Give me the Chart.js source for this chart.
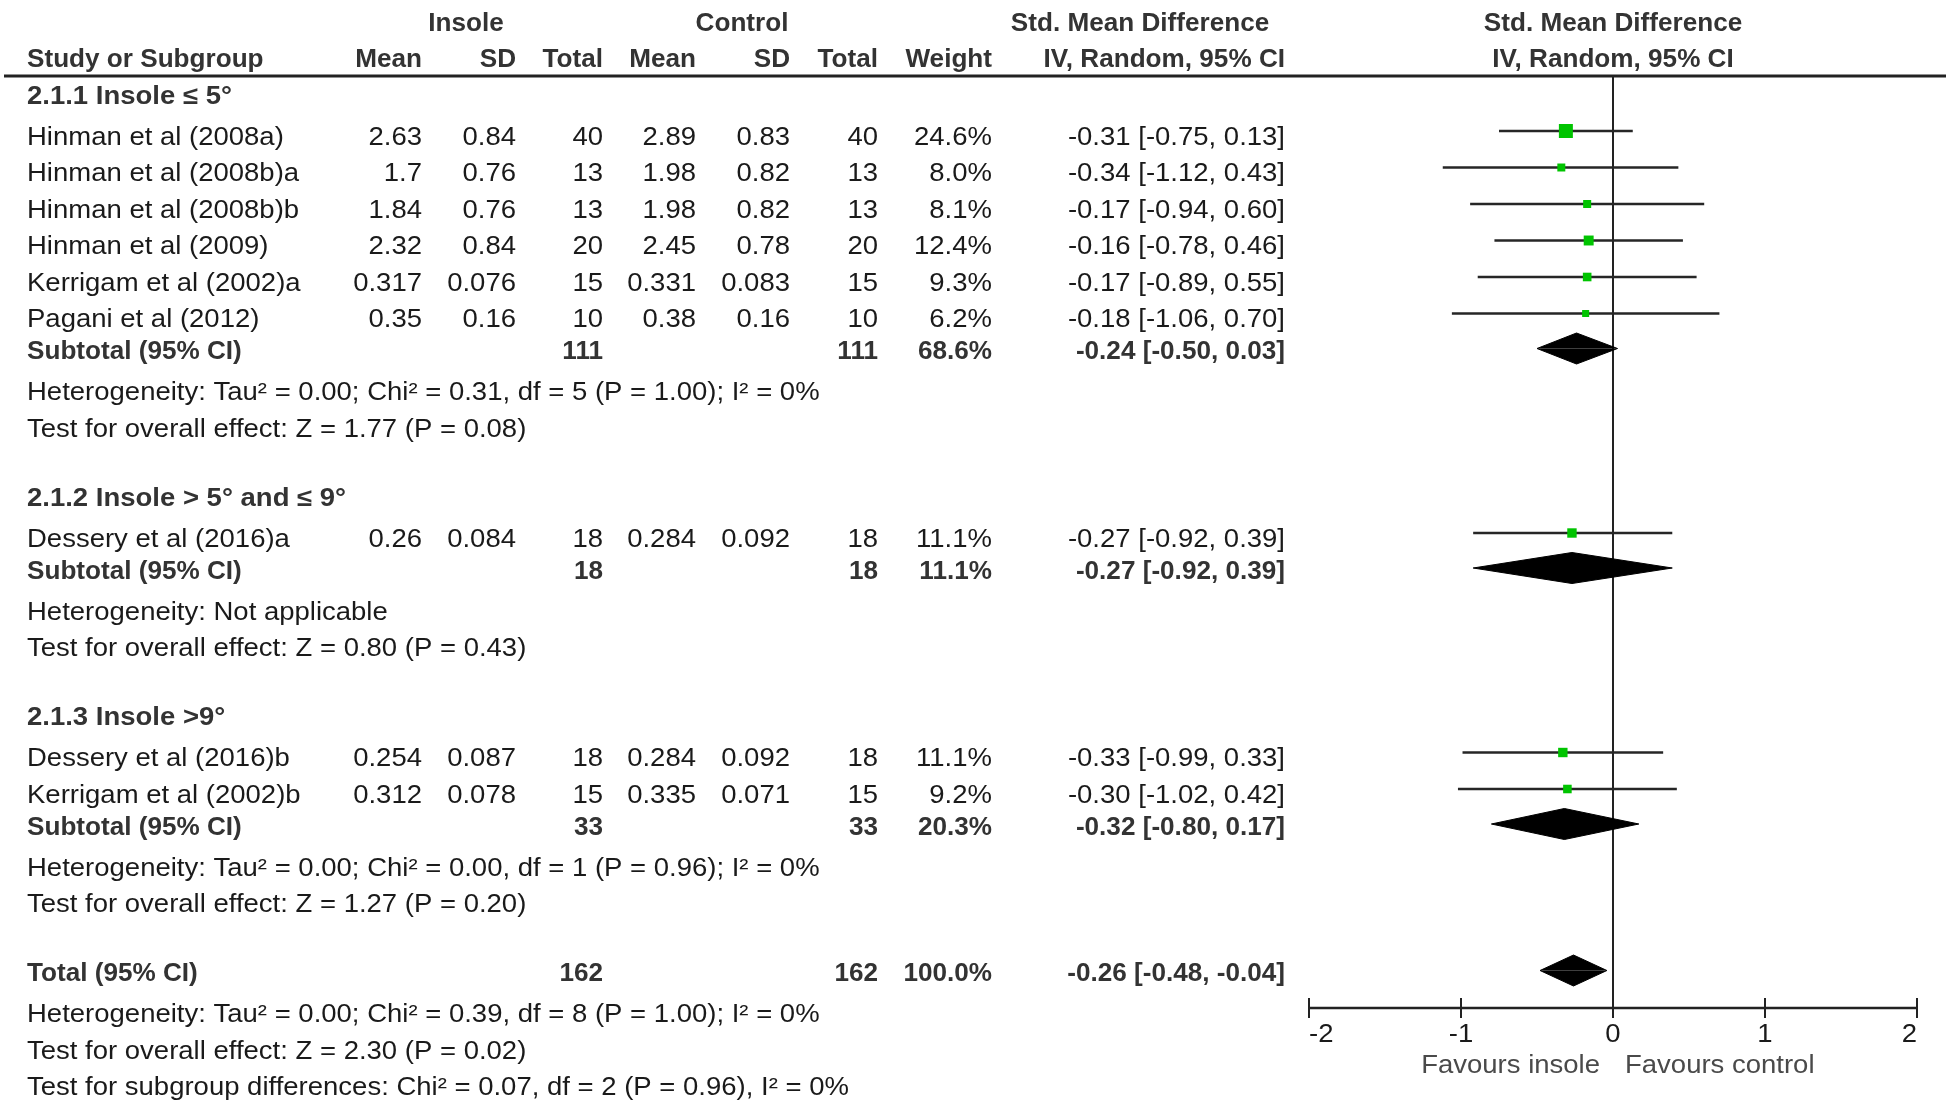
<!DOCTYPE html>
<html><head><meta charset="utf-8">
<script src="https://cdn.jsdelivr.net/npm/chart.js@4.4.1/dist/chart.umd.min.js"></script>
<style>html,body{margin:0;padding:0;background:#fff;overflow:hidden}#wrap{width:1946px;height:1104px}</style>
</head><body><div id="wrap"><canvas id="c" width="1946" height="1104"></canvas></div>
<script>
// ---------------- DATA ----------------
const studyNames = ['Hinman et al (2008a)','Hinman et al (2008b)a','Hinman et al (2008b)b','Hinman et al (2009)','Kerrigam et al (2002)a','Pagani et al (2012)','Dessery et al (2016)a','Dessery et al (2016)b','Kerrigam et al (2002)b'];
const studyGroup = [0,0,0,0,0,0,1,2,2];
const insoleMean = [2.63,1.7,1.84,2.32,0.317,0.35,0.26,0.254,0.312];
const insoleSD = [0.84,0.76,0.76,0.84,0.076,0.16,0.084,0.087,0.078];
const insoleN = [40,13,13,20,15,10,18,18,15];
const controlMean = [2.89,1.98,1.98,2.45,0.331,0.38,0.284,0.284,0.335];
const controlSD = [0.83,0.82,0.82,0.78,0.083,0.16,0.092,0.092,0.071];
const controlN = [40,13,13,20,15,10,18,18,15];
const weight = [24.6,8.0,8.1,12.4,9.3,6.2,11.1,11.1,9.2];
const smd = [-0.31,-0.34,-0.17,-0.16,-0.17,-0.18,-0.27,-0.33,-0.30];
const ciLow = [-0.75,-1.12,-0.94,-0.78,-0.89,-1.06,-0.92,-0.99,-1.02];
const ciHigh = [0.13,0.43,0.60,0.46,0.55,0.70,0.39,0.33,0.42];

const groupNames = ['2.1.1 Insole \u2264 5\u00b0','2.1.2 Insole > 5\u00b0 and \u2264 9\u00b0','2.1.3 Insole >9\u00b0'];
const subInsoleN = [111,18,33];
const subControlN = [111,18,33];
const subWeight = [68.6,11.1,20.3];
const subSmd = [-0.24,-0.27,-0.32];
const subLow = [-0.50,-0.92,-0.80];
const subHigh = [0.03,0.39,0.17];
const groupHet = ['Heterogeneity: Tau\u00b2 = 0.00; Chi\u00b2 = 0.31, df = 5 (P = 1.00); I\u00b2 = 0%','Heterogeneity: Not applicable','Heterogeneity: Tau\u00b2 = 0.00; Chi\u00b2 = 0.00, df = 1 (P = 0.96); I\u00b2 = 0%'];
const groupTest = ['Test for overall effect: Z = 1.77 (P = 0.08)','Test for overall effect: Z = 0.80 (P = 0.43)','Test for overall effect: Z = 1.27 (P = 0.20)'];

const totalLabel = 'Total (95% CI)';
const totalInsoleN = 162;
const totalControlN = 162;
const totalWeight = 100.0;
const totalSmd = -0.26;
const totalLow = -0.48;
const totalHigh = -0.04;
const totalNotes = ['Heterogeneity: Tau\u00b2 = 0.00; Chi\u00b2 = 0.39, df = 8 (P = 1.00); I\u00b2 = 0%','Test for overall effect: Z = 2.30 (P = 0.02)','Test for subgroup differences: Chi\u00b2 = 0.07, df = 2 (P = 0.96), I\u00b2 = 0%'];

const headerTop = ['Insole','Control','Std. Mean Difference','Std. Mean Difference'];
const headerCols = ['Study or Subgroup','Mean','SD','Total','Mean','SD','Total','Weight','IV, Random, 95% CI','IV, Random, 95% CI'];
const xTicks = [-2,-1,0,1,2];
const xAxisLabels = ['Favours insole','Favours control'];

// ---------------- LAYOUT ----------------
const W = 1946, H = 1104;
const PLOT = {left:1309, right:1917, top:76, bottom:1008};
const COL = {name:27, iMean:422, iSD:516, iN:603, cMean:696, cSD:790, cN:878, weight:992, ci:1285};
const TOP_X = [466, 742, 1140];
const FONT = '"Liberation Sans", Arial, sans-serif';
const FS = 25, SX_N = 1.1, SX_B = 1.045, SX_G = 1.1;
const TEXT_DY = 2;
const MARK_DY = -5, DIA_DY = -2, DIA_H = 15.5;

const rows = [];
let curY = 95, prev = null;
const GAP = {group:69, study:36.5, studyFirst:41, subtotal:32, het:41, test:36.5, total:69};
function addRow(type, payload){
  if (prev !== null) curY += (type === 'study' && prev === 'group') ? GAP.studyFirst : GAP[type];
  rows.push(Object.assign({type, y:curY}, payload)); prev = type;
}
groupNames.forEach((g, gi) => {
  addRow('group', {text:g});
  studyGroup.forEach((sg, i) => { if (sg === gi) addRow('study', {i}); });
  addRow('subtotal', {gi});
  addRow('het', {text:groupHet[gi]});
  addRow('test', {text:groupTest[gi]});
});
addRow('total', {});
addRow('het', {text:totalNotes[0]});
addRow('test', {text:totalNotes[1]});
addRow('test', {text:totalNotes[2]});

const f2 = v => v.toFixed(2);
const ciText = (m, lo, hi) => `${f2(m)} [${f2(lo)}, ${f2(hi)}]`;
const side = w => 14 * Math.sqrt(w / 24.6);

// ---------------- DATASETS ----------------
const datasets = [];
const studyRows = rows.filter(r => r.type === 'study');
datasets.push({
  label:'SMD', showLine:false, order:0,
  data: studyRows.map(r => ({x:smd[r.i], y:r.y + MARK_DY})),
  pointStyle:'rect', pointRadius: studyRows.map(r => side(weight[r.i]) / Math.SQRT2),
  pointHoverRadius: studyRows.map(r => side(weight[r.i]) / Math.SQRT2),
  backgroundColor:'#00c400', borderWidth:0, pointBorderWidth:0
});
studyRows.forEach(r => {
  datasets.push({
    label:'CI ' + studyNames[r.i], order:1,
    data:[{x:ciLow[r.i], y:r.y + MARK_DY},{x:ciHigh[r.i], y:r.y + MARK_DY}],
    borderColor:'#262626', borderWidth:2.5, pointRadius:0, fill:false
  });
});
const diaRows = [];
rows.forEach(r => {
  if (r.type === 'subtotal') diaRows.push({y:r.y, m:subSmd[r.gi], lo:subLow[r.gi], hi:subHigh[r.gi]});
  if (r.type === 'total') diaRows.push({y:r.y, m:totalSmd, lo:totalLow, hi:totalHigh});
});
diaRows.forEach(d => {
  const yc = d.y + DIA_DY;
  [-1, 1].forEach(s => {
    datasets.push({
      label:'diamond', order:1,
      data:[{x:d.lo, y:yc},{x:d.m, y:yc + s * DIA_H},{x:d.hi, y:yc}],
      borderColor:'#000', backgroundColor:'#000', borderWidth:1, pointRadius:0,
      tension:0, fill:{value:yc}
    });
  });
});

// ---------------- PLUGIN ----------------
function txt(ctx, t, x, y, align, bold, color, sx){
  ctx.save();
  ctx.font = (bold ? 'bold ' : '') + FS + 'px ' + FONT;
  ctx.fillStyle = color || (bold ? '#333' : '#1a1a1a');
  ctx.textBaseline = 'middle';
  ctx.textAlign = align;
  ctx.translate(x, y + TEXT_DY);
  ctx.scale(sx || (bold ? SX_B : SX_N), 1);
  ctx.fillText(t, 0, 0);
  ctx.restore();
}
function seg(ctx, x1, y1, x2, y2){ ctx.beginPath(); ctx.moveTo(x1, y1); ctx.lineTo(x2, y2); ctx.stroke(); }

const forestPlugin = {
  id:'forest',
  beforeDatasetsDraw(chart){
    const {ctx, chartArea:a, scales:{x}} = chart;
    ctx.save();
    ctx.strokeStyle = '#222';
    ctx.lineWidth = 3; seg(ctx, 4, a.top, W, a.top);
    ctx.lineWidth = 2;
    const x0 = x.getPixelForValue(0);
    seg(ctx, x0, a.top, x0, a.bottom);
    ctx.lineWidth = 2.5;
    seg(ctx, x.getPixelForValue(xTicks[0]), a.bottom, x.getPixelForValue(xTicks[xTicks.length-1]), a.bottom);
    ctx.lineWidth = 2;
    xTicks.forEach(t => { const px = x.getPixelForValue(t); seg(ctx, px, a.bottom - 10, px, a.bottom + 10); });
    ctx.restore();
  },
  afterDraw(chart){
    const {ctx, chartArea:a, scales:{x, y}} = chart;
    const cx = (a.left + a.right) / 2;
    const h1 = y.getPixelForValue(22), h2 = y.getPixelForValue(58);
    txt(ctx, headerTop[0], TOP_X[0], h1, 'center', true);
    txt(ctx, headerTop[1], TOP_X[1], h1, 'center', true);
    txt(ctx, headerTop[2], TOP_X[2], h1, 'center', true);
    txt(ctx, headerTop[3], cx, h1, 'center', true);
    const cols = [COL.name, COL.iMean, COL.iSD, COL.iN, COL.cMean, COL.cSD, COL.cN, COL.weight, COL.ci];
    headerCols.forEach((h, k) => {
      if (k === 0) txt(ctx, h, cols[0], h2, 'left', true);
      else if (k < 9) txt(ctx, h, cols[k], h2, 'right', true);
      else txt(ctx, h, cx, h2, 'center', true);
    });
    rows.forEach(r => {
      const py = y.getPixelForValue(r.y);
      if (r.type === 'group') txt(ctx, r.text, COL.name, py, 'left', true, null, SX_G);
      else if (r.type === 'het' || r.type === 'test') txt(ctx, r.text, COL.name, py, 'left', false);
      else if (r.type === 'study') {
        const i = r.i;
        txt(ctx, studyNames[i], COL.name, py, 'left', false);
        txt(ctx, String(insoleMean[i]), COL.iMean, py, 'right', false);
        txt(ctx, String(insoleSD[i]), COL.iSD, py, 'right', false);
        txt(ctx, String(insoleN[i]), COL.iN, py, 'right', false);
        txt(ctx, String(controlMean[i]), COL.cMean, py, 'right', false);
        txt(ctx, String(controlSD[i]), COL.cSD, py, 'right', false);
        txt(ctx, String(controlN[i]), COL.cN, py, 'right', false);
        txt(ctx, weight[i].toFixed(1) + '%', COL.weight, py, 'right', false);
        txt(ctx, ciText(smd[i], ciLow[i], ciHigh[i]), COL.ci, py, 'right', false);
      } else if (r.type === 'subtotal') {
        const g = r.gi;
        txt(ctx, 'Subtotal (95% CI)', COL.name, py, 'left', true);
        txt(ctx, String(subInsoleN[g]), COL.iN, py, 'right', true);
        txt(ctx, String(subControlN[g]), COL.cN, py, 'right', true);
        txt(ctx, subWeight[g].toFixed(1) + '%', COL.weight, py, 'right', true);
        txt(ctx, ciText(subSmd[g], subLow[g], subHigh[g]), COL.ci, py, 'right', true);
      } else if (r.type === 'total') {
        txt(ctx, totalLabel, COL.name, py, 'left', true);
        txt(ctx, String(totalInsoleN), COL.iN, py, 'right', true);
        txt(ctx, String(totalControlN), COL.cN, py, 'right', true);
        txt(ctx, totalWeight.toFixed(1) + '%', COL.weight, py, 'right', true);
        txt(ctx, ciText(totalSmd, totalLow, totalHigh), COL.ci, py, 'right', true);
      }
    });
    const ty = a.bottom + 25;
    xTicks.forEach((t, k) => {
      const px = x.getPixelForValue(t);
      const al = k === 0 ? 'left' : (k === xTicks.length - 1 ? 'right' : 'center');
      txt(ctx, String(t), px, ty, al, false);
    });
    const x0 = x.getPixelForValue(0);
    txt(ctx, xAxisLabels[0], x0 - 13, a.bottom + 56, 'right', false, '#4a4a4a');
    txt(ctx, xAxisLabels[1], x0 + 12, a.bottom + 56, 'left', false, '#4a4a4a');
  }
};

new Chart(document.getElementById('c'), {
  type:'line',
  data:{datasets},
  options:{
    responsive:false, animation:false, devicePixelRatio:1, events:[],
    layout:{padding:{left:PLOT.left, top:PLOT.top, right:W - PLOT.right, bottom:H - PLOT.bottom}},
    scales:{
      x:{type:'linear', min:xTicks[0], max:xTicks[xTicks.length-1], display:false},
      y:{type:'linear', min:PLOT.top, max:PLOT.bottom, reverse:true, display:false}
    },
    plugins:{legend:{display:false}, tooltip:{enabled:false}}
  },
  plugins:[forestPlugin]
});
</script></body></html>
